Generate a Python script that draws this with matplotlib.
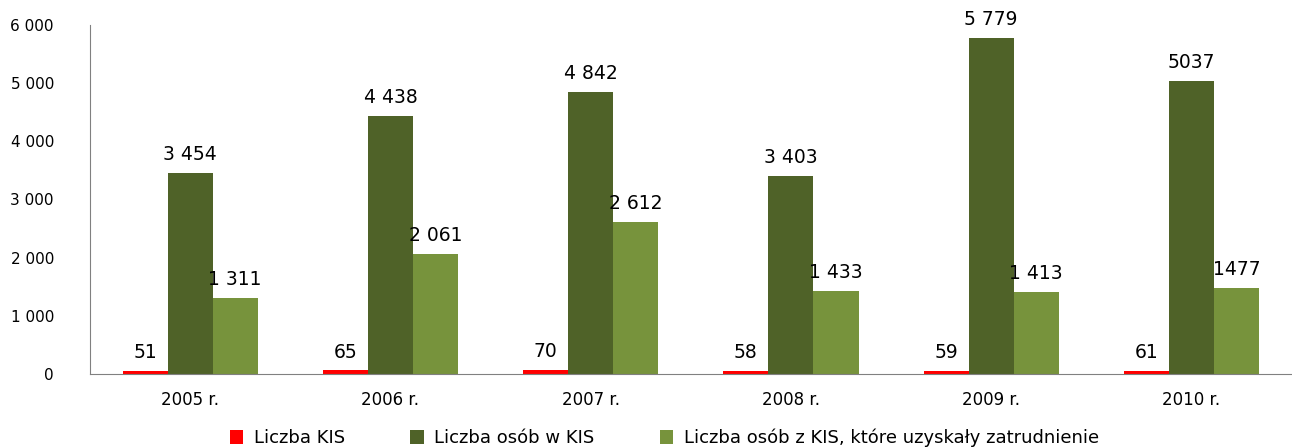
import matplotlib
matplotlib.use('Agg')
import matplotlib.pyplot as plt
import numpy as np

# dane
lata = ['2005 r.', '2006 r.', '2007 r.', '2008 r.', '2009 r.', '2010 r.']
liczba_kis = [51, 65, 70, 58, 59, 61]
osoby_w_kis = [3454, 4438, 4842, 3403, 5779, 5037]
osoby_zatrudnione = [1311, 2061, 2612, 1433, 1413, 1477]

etykiety_kis = ['51', '65', '70', '58', '59', '61']
etykiety_osoby = ['3 454', '4 438', '4 842', '3 403', '5 779', '5037']
etykiety_zatr = ['1 311', '2 061', '2 612', '1 433', '1 413', '1477']

y_ticks = [0, 1000, 2000, 3000, 4000, 5000, 6000]
y_labels = ['0', '1 000', '2 000', '3 000', '4 000', '5 000', '6 000']

serie = [
    ('Liczba KIS', liczba_kis, etykiety_kis, '#FF0000'),
    ('Liczba osób w KIS', osoby_w_kis, etykiety_osoby, '#4F6228'),
    ('Liczba osób z KIS, które uzyskały zatrudnienie', osoby_zatrudnione, etykiety_zatr, '#77933C'),
]

plt.rcParams['font.family'] = ['DejaVu Sans']

fig = plt.figure(figsize=(12.92, 4.48), dpi=100)
ax = fig.add_axes([0.0697, 0.165, 0.93, 0.78])

x = np.arange(len(lata))
w = 0.225
for i, (nazwa, wart, etyk, kolor) in enumerate(serie):
    pos = x + (i - 1) * w
    ax.bar(pos, wart, width=w, color=kolor, label=nazwa)
    for px, v, t in zip(pos, wart, etyk):
        ax.text(px, v + 150, t, ha='center', va='bottom', fontsize=13.5, color='black')

ax.set_xlim(-0.5, len(lata) - 0.5)
ax.set_ylim(0, 6000)
ax.set_yticks(y_ticks)
ax.set_yticklabels(y_labels, fontsize=11)
ax.set_xticks(x)
ax.set_xticklabels(lata, fontsize=12)
ax.tick_params(axis='y', length=0, pad=26)
ax.tick_params(axis='x', length=0, pad=12)

for s in ['top', 'right']:
    ax.spines[s].set_visible(False)
ax.spines['left'].set_color('#808080')
ax.spines['bottom'].set_color('#808080')

ax.legend(loc='center', bbox_to_anchor=(0.478, -0.183), ncol=3, frameon=False,
          fontsize=13, handlelength=0.75, handleheight=0.75, columnspacing=3.6, handletextpad=0.6)

fig.savefig('out.png', dpi=100)
